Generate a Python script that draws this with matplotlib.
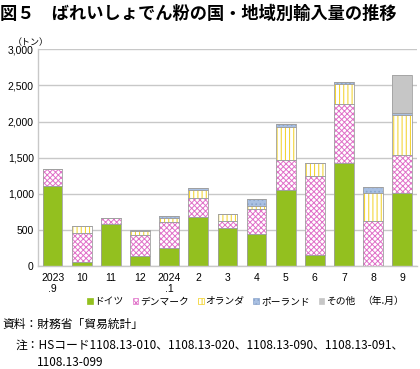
import matplotlib.pyplot as plt
import numpy as np
from matplotlib.patches import Patch

plt.rcParams['font.family'] = ['Noto Sans CJK JP', 'DejaVu Sans']
plt.rcParams['hatch.linewidth'] = 0.7

months = ['2023\n.9', '10', '11', '12', '2024\n.1', '2', '3', '4', '5', '6', '7', '8', '9']
germany = [1100, 45, 575, 130, 245, 675, 525, 440, 1055, 150, 1430, 0, 1010]
denmark = [240, 405, 85, 290, 360, 270, 90, 345, 410, 1095, 820, 620, 530]
netherlands = [0, 95, 0, 55, 60, 105, 105, 45, 455, 180, 270, 395, 555]
poland = [5, 5, 5, 20, 20, 25, 0, 100, 45, 0, 25, 75, 30]
other = [0, 0, 0, 0, 0, 0, 0, 0, 0, 0, 0, 0, 515]

series = [
    ('ドイツ', germany, '#93C01F', None, '#93C01F'),
    ('デンマーク', denmark, 'white', 'xxxxxx', '#E070C8'),
    ('オランダ', netherlands, 'white', '||||', '#F2D020'),
    ('ポーランド', poland, '#A9C0E2', '....', '#8AA4CC'),
    ('その他', other, '#C6C6C6', None, '#C6C6C6'),
]

fig = plt.figure(figsize=(4.2, 3.69), dpi=100)
ax = fig.add_axes([0.0905, 0.28, 0.902, 0.586])

x = np.arange(len(months))
w = 0.68
bottom = np.zeros(len(months))
handles = []
for name, vals, fc, hatch, hc in series:
    vals = np.array(vals, dtype=float)
    ax.bar(x, vals, w, bottom=bottom, color=fc, hatch=hatch, edgecolor=hc, linewidth=0, zorder=2)
    ax.bar(x, vals, w, bottom=bottom, fill=False, edgecolor='#A0A0A0', linewidth=0.6, zorder=3)
    bottom += vals
    handles.append(Patch(facecolor=fc, hatch=hatch, edgecolor=hc, linewidth=0.5, label=name))

ax.set_xlim(-0.5, 12.5)
ax.set_ylim(0, 3000)
ax.set_yticks(range(0, 3001, 500))
ax.set_yticklabels([f'{v:,}' for v in range(0, 3001, 500)], family='Liberation Sans', fontsize=7.5)
ax.set_xticks(x)
ax.set_xticklabels(months, family='Liberation Sans', fontsize=7.5, linespacing=1.15)
ax.tick_params(length=0, pad=3)
ax.tick_params(axis='x', pad=5)
ax.grid(axis='y', color='#C8C8C8', linewidth=1.0, zorder=0)
for s in ['top', 'right']:
    ax.spines[s].set_visible(False)
for s in ['left', 'bottom']:
    ax.spines[s].set_color('#C8C8C8')
    ax.spines[s].set_linewidth(1.0)

fig.legend(handles=handles, loc='center left', bbox_to_anchor=(0.195, 0.184), ncol=5,
           frameon=False, fontsize=7, handlelength=0.6, handleheight=0.6,
           handletextpad=0.2, columnspacing=0.9, borderpad=0)
fig.text(0.862, 0.184, '（年.月）', fontsize=7, va='center')
fig.text(0.03, 0.885, '（トン）', fontsize=6.5, va='center')

fig.text(0.0, 0.963, '図５　ばれいしょでん粉の国・地域別輸入量の推移', fontsize=12.4,
         fontweight='bold', va='center', ha='left')
fig.text(0.005, 0.122, '資料：財務省「貿易統計」', fontsize=8.5, va='center')
fig.text(0.038, 0.063, '注：HSコード1108.13-010、1108.13-020、1108.13-090、1108.13-091、',
         fontsize=8.5, va='center')
fig.text(0.088, 0.017, '1108.13-099', fontsize=8.5, va='center')

fig.savefig('out.png', dpi=100)
